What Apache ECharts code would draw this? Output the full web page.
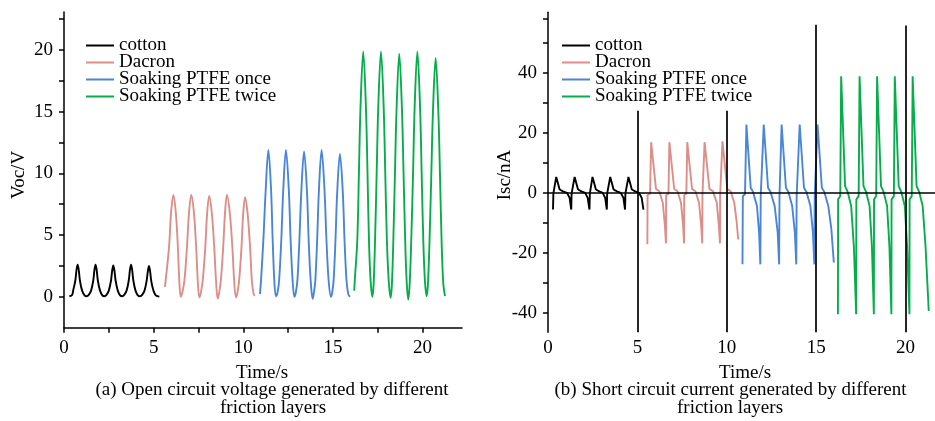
<!DOCTYPE html>
<html><head><meta charset="utf-8">
<script src="https://cdn.jsdelivr.net/npm/echarts@6/dist/echarts.min.js"></script>
<style>html,body{margin:0;padding:0;background:#fff}#c{width:935px;height:421px}</style>
</head><body><div id="c"></div>
<script>
const seriesNames = ['cotton', 'Dacron', 'Soaking PTFE once', 'Soaking PTFE twice'];
const seriesColors = ['#000000', '#dc8e88', '#4a85d6', '#07ad4c'];

// (a) Open circuit voltage, [time s, Voc V]
const vocCotton = [[0.30,0.05],[0.45,0.15],[0.51,0.5],[0.63,1.3],[0.70,2.2],[0.76,2.6],[0.82,2.2],[0.89,1.3],[1.01,0.5],[1.15,0.12],[1.26,0.05],[1.38,0.15],[1.51,0.5],[1.63,1.3],[1.70,2.2],[1.76,2.6],[1.82,2.2],[1.89,1.3],[2.01,0.5],[2.14,0.12],[2.25,0.05],[2.37,0.15],[2.50,0.5],[2.62,1.3],[2.69,2.15],[2.75,2.55],[2.81,2.15],[2.88,1.3],[3.00,0.5],[3.13,0.12],[3.24,0.05],[3.36,0.15],[3.49,0.5],[3.61,1.3],[3.68,2.2],[3.74,2.6],[3.80,2.2],[3.87,1.3],[3.99,0.5],[4.12,0.12],[4.24,0.05],[4.36,0.15],[4.49,0.5],[4.61,1.3],[4.68,2.1],[4.74,2.5],[4.80,2.1],[4.87,1.25],[4.99,0.5],[5.12,0.12],[5.32,0.02]];
const vocDacron = [[5.63,0.8],[5.86,4.05],[5.97,6.76],[6.10,8.25],[6.24,6.76],[6.35,4.05],[6.43,1.35],[6.51,0.0],[6.60,0.35],[6.72,1.35],[6.86,4.05],[6.97,6.76],[7.10,8.25],[7.25,6.76],[7.37,4.05],[7.46,1.35],[7.55,-0.05],[7.63,0.3],[7.74,1.35],[7.88,4.0],[7.98,6.7],[8.10,8.17],[8.25,6.7],[8.38,4.0],[8.48,1.3],[8.57,-0.15],[8.65,0.3],[8.75,1.35],[8.88,4.05],[8.98,6.76],[9.09,8.25],[9.25,6.76],[9.39,4.05],[9.49,1.35],[9.59,-0.05],[9.67,0.3],[9.77,1.35],[9.90,4.0],[9.99,6.6],[10.10,8.06],[10.25,6.6],[10.38,4.0],[10.48,1.3],[10.58,0.2],[10.65,0.1]];
const vocOnce = [[10.93,0.22],[10.99,1.35],[11.12,4.6],[11.25,8.65],[11.40,11.9],[11.55,8.65],[11.64,4.6],[11.73,1.35],[11.82,0.05],[11.91,0.35],[12.00,1.35],[12.12,4.6],[12.23,8.65],[12.38,11.9],[12.54,8.65],[12.64,4.6],[12.75,1.35],[12.85,0.0],[12.93,0.35],[13.02,1.35],[13.13,4.6],[13.24,8.6],[13.39,11.76],[13.55,8.6],[13.65,4.5],[13.76,1.3],[13.87,-0.16],[13.94,0.35],[14.02,1.35],[14.12,4.6],[14.22,8.65],[14.37,11.9],[14.53,8.65],[14.64,4.6],[14.76,1.35],[14.89,0.0],[14.96,0.35],[15.04,1.35],[15.14,4.5],[15.24,8.5],[15.39,11.57],[15.55,8.5],[15.65,4.5],[15.76,1.3],[15.86,0.2],[15.95,0.0]];
const vocTwice = [[16.19,0.49],[16.22,1.35],[16.36,4.6],[16.45,10.0],[16.54,15.4],[16.69,19.87],[16.84,15.4],[16.93,10.0],[17.01,4.6],[17.10,1.35],[17.20,0.0],[17.27,1.0],[17.35,4.6],[17.44,10.0],[17.53,15.4],[17.68,19.87],[17.83,15.4],[17.92,10.0],[18.01,4.6],[18.11,1.35],[18.22,-0.08],[18.29,1.0],[18.37,4.6],[18.46,10.0],[18.55,15.2],[18.70,19.68],[18.85,15.2],[18.94,10.0],[19.03,4.6],[19.11,1.35],[19.20,-0.22],[19.28,1.0],[19.37,4.6],[19.47,10.0],[19.56,15.4],[19.71,19.87],[19.86,15.4],[19.95,10.0],[20.04,4.6],[20.13,1.35],[20.23,0.05],[20.30,1.0],[20.39,4.6],[20.49,10.0],[20.58,15.0],[20.73,19.33],[20.88,15.0],[20.97,10.0],[21.06,4.6],[21.15,1.2],[21.25,0.05]];

// (b) Short circuit current, [time s, Isc nA]
const iscCotton = [[0.28,-5.6],[0.30,-0.3],[0.38,0.3],[0.46,5.3],[0.65,1.1],[0.84,0.5],[1.06,0],[1.21,-1.7],[1.30,-5.6],[1.32,-0.3],[1.40,0.3],[1.49,5.3],[1.68,1.1],[1.87,0.5],[2.08,0],[2.22,-1.7],[2.32,-5.6],[2.34,-0.3],[2.41,0.3],[2.49,5.3],[2.68,1.1],[2.87,0.5],[3.06,0],[3.20,-1.7],[3.29,-5.6],[3.31,-0.3],[3.39,0.3],[3.48,5.3],[3.67,1.1],[3.86,0.5],[4.07,0],[4.22,-1.7],[4.31,-5.6],[4.33,-0.3],[4.41,0.3],[4.50,5.3],[4.69,1.1],[4.88,0.5],[5.09,0],[5.24,-1.7],[5.34,-5.6]];
const iscDacron = [[5.56,-17.2],[5.57,-0.8],[5.71,-0.2],[5.77,16.9],[6.04,1.3],[6.23,0.5],[6.42,-3.3],[6.54,-11],[6.60,-16.9],[6.61,-0.8],[6.74,-0.2],[6.79,16.9],[7.06,1.3],[7.25,0.5],[7.44,-3.3],[7.56,-11],[7.61,-16.9],[7.62,-0.8],[7.74,-0.2],[7.79,16.9],[8.06,1.3],[8.25,0.5],[8.45,-3.3],[8.57,-11],[8.63,-16.9],[8.64,-0.8],[8.72,-0.2],[8.76,16.9],[9.03,1.3],[9.23,0.5],[9.44,-3.3],[9.56,-11],[9.62,-16.9],[9.63,-0.8],[9.72,-0.2],[9.76,17.2],[10.03,1.3],[10.22,0.5],[10.42,-3.3],[10.55,-9.5],[10.64,-15.6]];
const iscOnce = [[10.88,-23.9],[10.90,-1.1],[11.02,-0.5],[11.10,22.8],[11.34,1.7],[11.47,0.3],[11.69,-4.4],[11.81,-13.3],[11.88,-23.9],[11.90,-1.1],[12.01,-0.5],[12.07,22.8],[12.31,1.7],[12.45,0.3],[12.68,-4.4],[12.85,-13.3],[12.93,-23.9],[12.95,-1.1],[13.02,-0.5],[13.07,22.8],[13.31,1.7],[13.45,0.3],[13.66,-4.4],[13.81,-13.3],[13.89,-23.9],[13.91,-1.1],[14.02,-0.5],[14.08,22.8],[14.32,1.7],[14.46,0.3],[14.68,-4.4],[14.82,-13.3],[14.90,-23.9],[14.92,-1.1],[15.03,-0.5],[15.08,22.8],[15.32,1.7],[15.46,0.3],[15.68,-4.4],[15.85,-12],[15.99,-23.3]];
const iscTwice = [[16.22,-40.6],[16.23,-2.2],[16.35,-1.1],[16.40,38.9],[16.62,2.2],[16.77,0.2],[16.96,-4.4],[17.11,-17.8],[17.24,-40.6],[17.25,-2.2],[17.38,-1.1],[17.43,38.9],[17.65,2.2],[17.80,0.2],[17.99,-4.4],[18.12,-17.8],[18.23,-40.6],[18.24,-2.2],[18.36,-1.1],[18.41,38.9],[18.63,2.2],[18.78,0.2],[18.97,-4.4],[19.10,-17.8],[19.21,-40.6],[19.22,-2.2],[19.35,-1.1],[19.40,38.9],[19.62,2.2],[19.77,0.2],[19.96,-4.4],[20.09,-17.8],[20.22,-40.6],[20.23,-2.2],[20.35,-1.1],[20.40,38.9],[20.62,2.2],[20.77,0.2],[20.96,-4.4],[21.12,-17.8],[21.30,-39.5]];

// black reference lines in (b)
const guideTimes = [5, 10, 15, 20];
const guideTops = [27.4, 27.4, 56.1, 55.9];
const guideBottom = -46.6;
const zeroLevel = 0;

// axis ticks and labels
const timeLabels = [0, 5, 10, 15, 20];
const timeTicks = [0, 2.5, 5, 7.5, 10, 12.5, 15, 17.5, 20];
const vocLabels = [0, 5, 10, 15, 20];
const vocTicks = [0, 2.5, 5, 7.5, 10, 12.5, 15, 17.5, 20, 22.5];
const iscLabels = [-40, -20, 0, 20, 40];
const iscTicks = [-40, -30, -20, -10, 0, 10, 20, 30, 40, 50, 58];

const FONT = '"Liberation Serif", "Times New Roman", serif';
const BLACK = '#000';
const chart = echarts.init(document.getElementById('c'));

function baseAxis(extra) {
  return Object.assign({
    type: 'value',
    splitLine: { show: false },
    axisLine: { show: true, onZero: false, lineStyle: { color: BLACK, width: 1.5 } },
    axisTick: { show: true, length: 5, lineStyle: { color: BLACK, width: 1.5 } },
    axisLabel: { color: BLACK, fontFamily: FONT, fontSize: 19 }
  }, extra);
}

const vocData = [vocCotton, vocDacron, vocOnce, vocTwice];
const iscData = [iscCotton, iscDacron, iscOnce, iscTwice];
const series = [];
seriesNames.forEach((n, i) => {
  series.push({ name: n, type: 'line', xAxisIndex: 0, yAxisIndex: 0, data: vocData[i],
    showSymbol: false, smooth: 0.35, lineStyle: { color: seriesColors[i], width: 1.9 }, itemStyle: { color: seriesColors[i] } });
});
seriesNames.forEach((n, i) => {
  series.push({ name: n, type: 'line', xAxisIndex: 1, yAxisIndex: 1, data: iscData[i],
    showSymbol: false, lineStyle: { color: seriesColors[i], width: 1.9 }, itemStyle: { color: seriesColors[i] } });
});
const guideLines = [{ yAxis: zeroLevel }];
guideTimes.forEach((t, i) => {
  guideLines.push([{ coord: [t, guideBottom] }, { coord: [t, guideTops[i]] }]);
});
series.push({
  name: 'guides', type: 'line', xAxisIndex: 1, yAxisIndex: 1, data: [],
  showSymbol: false, silent: true, z: 5,
  markLine: { silent: true, symbol: ['none', 'none'], label: { show: false },
    lineStyle: { color: BLACK, width: 1.7, type: 'solid' }, emphasis: { disabled: true }, data: guideLines }
});

const legendBase = {
  data: seriesNames, orient: 'vertical', top: 36, padding: 0, icon: 'rect',
  itemWidth: 28, itemHeight: 2, itemGap: -2,
  textStyle: { fontFamily: FONT, fontSize: 19, lineHeight: 17, color: BLACK }
};

function txt(x, y, s, rot) {
  return { type: 'text', x: x, y: y, rotation: rot || 0, silent: true,
    style: { text: s, font: '19px ' + FONT, fill: BLACK, textAlign: 'center', textVerticalAlign: 'middle', align: 'center', verticalAlign: 'middle' } };
}

chart.setOption({
  animation: false,
  backgroundColor: '#fff',
  grid: [
    { left: 64, top: 12, width: 398, height: 315.7 },
    { left: 548, top: 12.3, width: 388, height: 320 }
  ],
  xAxis: [
    baseAxis({ gridIndex: 0, min: 0, max: 22.2,
      axisTick: { show: true, length: 5, customValues: timeTicks, lineStyle: { color: BLACK, width: 1.5 } },
      axisLabel: { customValues: timeLabels, margin: 11, color: BLACK, fontFamily: FONT, fontSize: 19 } }),
    baseAxis({ gridIndex: 1, min: 0, max: 21.65,
      axisLine: { show: false }, axisTick: { show: false },
      axisLabel: { customValues: timeLabels, margin: 6.5, color: BLACK, fontFamily: FONT, fontSize: 19 } })
  ],
  yAxis: [
    baseAxis({ gridIndex: 0, min: -2.5, max: 23.06,
      axisTick: { show: true, length: 5, customValues: vocTicks, lineStyle: { color: BLACK, width: 1.5 } },
      axisLabel: { customValues: vocLabels, margin: 11, color: BLACK, fontFamily: FONT, fontSize: 19 } }),
    baseAxis({ gridIndex: 1, min: -46.6, max: 60.3,
      axisTick: { show: true, length: 5, customValues: iscTicks, lineStyle: { color: BLACK, width: 1.5 } },
      axisLabel: { customValues: iscLabels, margin: 11, color: BLACK, fontFamily: FONT, fontSize: 19 } })
  ],
  legend: [
    Object.assign({}, legendBase, { left: 86 }),
    Object.assign({}, legendBase, { left: 562 })
  ],
  graphic: [
    txt(19.5, 175, 'Voc/V', Math.PI / 2),
    txt(505, 175, 'Isc/nA', Math.PI / 2),
    txt(262, 373, 'Time/s'),
    txt(745, 373, 'Time/s'),
    txt(272, 390, '(a) Open circuit voltage generated by different'),
    txt(273, 408, 'friction layers'),
    txt(730.5, 390, '(b) Short circuit current generated by different'),
    txt(730, 408, 'friction layers')
  ],
  series: series
});
</script></body></html>
